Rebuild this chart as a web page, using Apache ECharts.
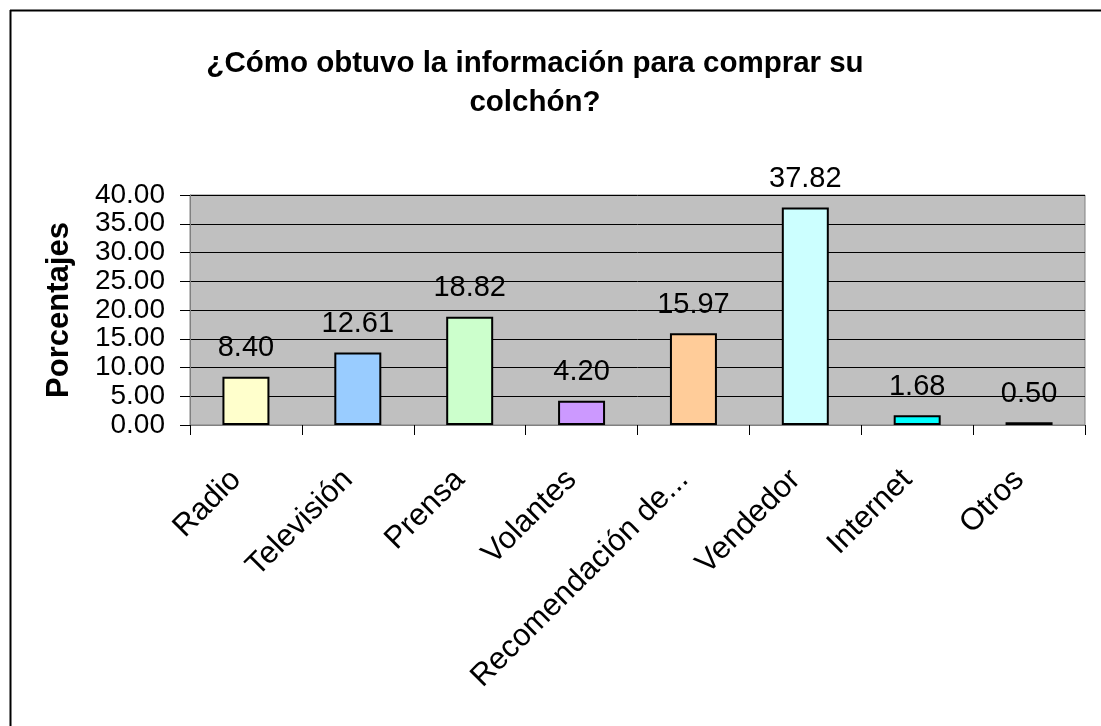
<!DOCTYPE html>
<html>
<head>
<meta charset="utf-8">
<script src="https://cdn.jsdelivr.net/npm/echarts@6/dist/echarts.min.js"></script>
<style>
  html, body { margin: 0; padding: 0; background: #fff; }
  #chart { width: 1101px; height: 726px; }
</style>
</head>
<body>
<div id="chart"></div>
<script>
const categories = ['Radio', 'Televisión', 'Prensa', 'Volantes', 'Recomendación de...', 'Vendedor', 'Internet', 'Otros']
const values = [8.40, 12.61, 18.82, 4.20, 15.97, 37.82, 1.68, 0.50]
const barColors = ['#FFFFCC', '#99CCFF', '#CCFFCC', '#CC99FF', '#FFCC99', '#CCFFFF', '#00FFFF', '#000000']
const yTicks = { min: 0, max: 40, interval: 5 }

const chart = echarts.init(document.getElementById('chart'))
const font = 'Arial, "Liberation Sans", sans-serif'

chart.setOption({
  animation: false,
  title: {
    text: '¿Cómo obtuvo la información para comprar su\ncolchón?',
    left: 530,
    top: 39,
    textAlign: 'center',
    textStyle: { fontFamily: font, fontSize: 29.5, fontWeight: 'bold', color: '#000', lineHeight: 39 }
  },
  graphic: [
    { type: 'line', shape: { x1: 10, y1: 10.5, x2: 1101, y2: 10.5 }, style: { stroke: '#000', lineWidth: 2 } },
    { type: 'line', shape: { x1: 10.5, y1: 10, x2: 10.5, y2: 726 }, style: { stroke: '#000', lineWidth: 2 } }
  ],
  grid: {
    left: 190, right: 16, top: 195, bottom: 301,
    show: true, backgroundColor: '#C0C0C0', borderColor: '#808080', borderWidth: 1
  },
  xAxis: {
    type: 'category',
    data: categories,
    axisLine: { lineStyle: { color: '#808080', width: 1 } },
    axisTick: { show: true, length: 10, lineStyle: { color: '#000' } },
    axisLabel: {
      rotate: 45, margin: 40, interval: 0, padding: [0, 14, 8, 0],
      fontFamily: font, fontSize: 31, color: '#000'
    }
  },
  yAxis: {
    type: 'value',
    min: yTicks.min, max: yTicks.max, interval: yTicks.interval,
    name: 'Porcentajes',
    nameLocation: 'middle',
    nameGap: 115,
    nameTextStyle: { fontFamily: font, fontSize: 31, fontWeight: 'bold', color: '#000' },
    axisLine: { show: true, lineStyle: { color: '#808080' } },
    axisTick: { show: true, length: 10, lineStyle: { color: '#000' } },
    axisLabel: {
      margin: 25, showMinLabel: true, showMaxLabel: true, hideOverlap: false,
      fontFamily: font, fontSize: 28, lineHeight: 28, color: '#000', formatter: v => v.toFixed(2)
    },
    splitLine: { show: true, lineStyle: { color: '#000', width: 1 } }
  },
  series: [{
    type: 'bar',
    barWidth: '42%',
    data: values.map((v, i) => ({ value: v, itemStyle: { color: barColors[i] } })),
    itemStyle: { borderColor: '#000', borderWidth: 2 },
    label: {
      show: true, position: 'top', distance: 14,
      fontFamily: font, fontSize: 29, color: '#000',
      formatter: p => p.value.toFixed(2)
    }
  }]
})
</script>
</body>
</html>
